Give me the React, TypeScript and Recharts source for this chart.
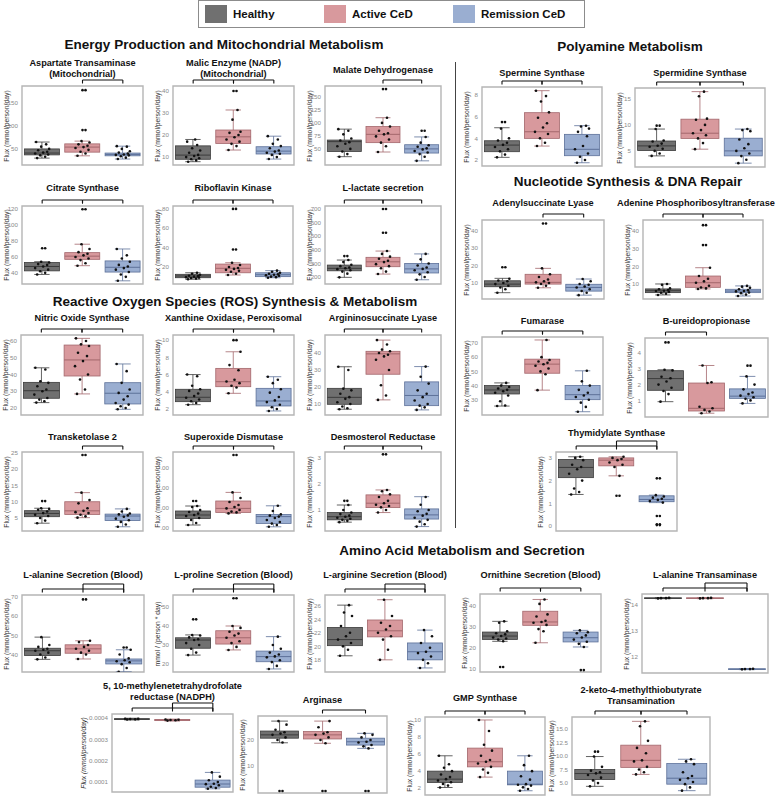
import React from "react";
import { ComposedChart, Bar, Scatter, XAxis, YAxis, ReferenceArea, ReferenceLine } from "recharts";

const GROUPS = ["Healthy", "Active CeD", "Remission CeD"];
const FILLS = ["#707070", "#d8999d", "#9aaed1"];
const EDGES = ["#3c3c3c", "#a3676c", "#5d7199"];
const JITTER = [-5, 3, -2, 6, -7, 1, 5, -4, 7, -1, 4, -6, 2, -3, 0];

// box stats per group: [low whisker, q1, median, q3, high whisker]
const aspBox = [[30, 37, 41, 50, 65], [35, 43, 54, 61, 67], [28, 35, 38, 41, 56]];
const aspPts = [[30, 33, 36, 38, 40, 42, 44, 47, 50, 55, 60, 65], [35, 40, 44, 48, 52, 54, 57, 60, 64, 67, 91, 178], [28, 31, 34, 36, 37, 38, 40, 42, 45, 50, 55, 56]];
const malicBox = [[7.9, 9.0, 10.9, 15.1, 18], [13.2, 16.2, 19.2, 22.3, 31.4], [9.1, 11.4, 12.7, 14.7, 19.5]];
const malicPts = [[7.9, 8.5, 9, 9.5, 10, 10.5, 11, 12, 13, 14, 15.5, 17, 18], [13.2, 15, 16, 17, 18, 19, 20, 21, 21.5, 27, 31.4, 40], [9.1, 10, 11, 11.5, 12, 12.5, 13, 14, 15, 16, 18, 19.5]];
const malateBox = [[35, 45, 64, 67, 88], [44, 62, 78, 93, 110], [27, 42, 50, 58, 73]];
const malatePts = [[35, 40, 45, 50, 55, 60, 63, 66, 70, 78, 85, 88], [44, 55, 62, 68, 74, 78, 80, 85, 93, 100, 110, 165], [27, 35, 40, 43, 46, 49, 51, 54, 57, 62, 73, 85]];
const citBox = [[38, 42.5, 48, 53, 54], [49, 57, 61, 65.4, 76], [30, 41, 47, 55, 70]];
const citPts = [[38, 40, 42, 44, 46, 48, 50, 51, 53, 54, 71], [49, 52, 56, 58, 60, 62, 64, 66, 70, 76, 120], [30, 35, 38, 41, 44, 46, 48, 50, 54, 58, 62, 70]];
const riboBox = [[7.3, 8.9, 10.7, 12.4, 14], [11.7, 14, 18.6, 23, 24.4], [8.9, 10, 12, 14, 16.2]];
const riboPts = [[7.3, 8, 8.5, 9, 9.5, 10, 10.5, 11, 12, 13, 14], [11.7, 13, 15, 16, 17, 18, 19, 20, 22, 24.4, 38, 80], [8.9, 9.5, 10, 11, 11.5, 12, 12.5, 13, 14, 15, 16.2]];
const lacBox = [[198, 246, 264, 288, 325], [222, 276, 312, 345, 391], [180, 230, 260, 300, 370]];
const lacPts = [[198, 225, 240, 250, 258, 265, 270, 280, 290, 310, 325, 354], [222, 240, 265, 280, 295, 310, 320, 335, 350, 370, 391, 526, 700], [180, 200, 220, 235, 250, 260, 270, 285, 300, 330, 370]];
const noBox = [[23.2, 25.8, 30.3, 35.3, 44], [28.4, 39.1, 48.7, 57.6, 61.6], [19.2, 22.4, 28.8, 35.1, 46.3]];
const noPts = [[23.2, 24, 25, 26, 28, 30, 31, 33, 35, 36, 43, 44], [28.4, 31, 37, 40, 45, 48, 51, 53, 57, 58, 60, 61.6], [19.2, 20, 21, 22, 23, 25, 27, 29, 31, 35, 42, 46.3]];
const xanBox = [[2.5, 2.85, 3.36, 4.29, 6.0], [3.82, 4.59, 5.17, 6.72, 8.65], [1.77, 2.35, 2.93, 4.4, 5.75]];
const xanPts = [[2.5, 2.7, 2.9, 3.1, 3.3, 3.5, 3.8, 4.1, 4.3, 4.7, 5.8, 6.0], [3.82, 4.5, 4.7, 5.0, 5.2, 5.4, 6.5, 7.1, 8.65, 10], [1.77, 2.0, 2.2, 2.5, 2.8, 3.0, 3.4, 3.9, 4.3, 5.0, 5.4, 5.75]];
const aslBox = [[6.9, 9.8, 13.9, 19.2, 31.9], [12.4, 27.5, 39.5, 41, 47.6], [6.5, 9, 15, 23, 32]];
const aslPts = [[6.9, 7.5, 8.5, 10, 11, 13, 14, 16, 18, 19, 30, 31.9], [12.4, 15, 21, 30, 36, 38, 39, 40, 41, 42, 45, 47.6], [6.5, 8, 9, 10, 12, 14, 16, 18, 22, 26, 32]];
const tkBox = [[3.4, 5.4, 6.4, 7.25, 8.0], [5.1, 6.1, 7.2, 10.0, 12.8], [2.3, 4.2, 5.6, 6.2, 7.8]];
const tkPts = [[3.4, 4.2, 5.0, 5.6, 6.0, 6.5, 7.0, 7.5, 7.8, 8.0, 10.2], [5.1, 5.5, 6.0, 6.5, 6.8, 7.2, 8.0, 9.5, 10.5, 12.8, 24.4], [2.3, 3.0, 3.8, 4.3, 4.8, 5.4, 5.8, 6.1, 6.4, 7.0, 7.8]];
const sodBox = [[115, 148, 165, 185, 210], [173, 178, 198, 235, 278], [106, 123, 157, 168, 211]];
const sodPts = [[115, 125, 140, 150, 160, 165, 172, 180, 190, 205, 210, 235], [173, 178, 182, 190, 198, 205, 215, 230, 250, 278, 465], [106, 115, 122, 130, 140, 150, 157, 162, 168, 185, 211]];
const desBox = [[0.53, 0.62, 0.74, 0.9, 1.19], [0.9, 1.09, 1.26, 1.58, 1.77], [0.36, 0.65, 0.81, 1.04, 1.51]];
const desPts = [[0.53, 0.58, 0.62, 0.66, 0.7, 0.74, 0.78, 0.84, 0.9, 1.0, 1.19, 1.35], [0.9, 1.0, 1.1, 1.15, 1.2, 1.26, 1.35, 1.5, 1.6, 1.72, 1.77, 3.14], [0.36, 0.45, 0.55, 0.62, 0.7, 0.78, 0.85, 0.95, 1.0, 1.2, 1.5]];
const smsBox = [[2.25, 2.77, 3.38, 3.78, 4.98], [3.29, 4.0, 4.61, 6.37, 8.4], [1.75, 2.4, 2.99, 4.37, 5.17]];
const smsPts = [[2.25, 2.5, 2.8, 3.0, 3.2, 3.4, 3.6, 3.8, 4.0, 4.9, 5.5], [3.29, 3.6, 4.0, 4.4, 4.6, 5.0, 5.4, 5.9, 6.4, 7.4, 7.9, 8.4], [1.75, 2.0, 2.3, 2.6, 3.0, 3.3, 4.2, 4.6, 4.9, 5.1, 5.17]];
const sdsBox = [[4.04, 5.06, 5.96, 6.9, 9.2], [5.33, 7.4, 8.4, 11.1, 16.4], [2.64, 4.04, 5.0, 7.44, 9.2]];
const sdsPts = [[4.04, 4.5, 5.0, 5.4, 5.8, 6.0, 6.4, 6.8, 7.0, 9.2, 9.86], [5.33, 6.5, 7.4, 8.0, 8.4, 9.0, 10.0, 11.0, 11.2, 15.5, 16.4], [2.64, 3.3, 4.0, 4.5, 5.0, 5.5, 6.3, 7.2, 8.8, 9.0, 9.2]];
const adslBox = [[4.5, 7.9, 9.4, 11.3, 12.7], [7.3, 9.4, 10.4, 15, 18.4], [3.1, 5.4, 7.5, 9.3, 12.3]];
const adslPts = [[4.5, 6.5, 7.5, 8.5, 9.4, 10, 11, 11.5, 12.5, 19], [7.3, 8.5, 9.5, 10, 10.4, 11, 12, 13.5, 15, 18.4, 44], [3.1, 4.5, 5.5, 6.5, 7.5, 8, 9, 9.5, 11, 12.3]];
const aprtBox = [[3.8, 5.1, 6.2, 7.2, 10], [7.2, 8.1, 10.7, 14.5, 19.2], [3.2, 5.1, 6.0, 7.0, 8.9]];
const aprtPts = [[3.8, 4.5, 5.0, 5.5, 6.0, 6.2, 6.5, 7.0, 7.5, 9.5, 10], [7.2, 7.5, 8.0, 9, 10.7, 11.5, 13, 14.5, 19.2, 32, 43.3], [3.2, 4.0, 4.8, 5.2, 5.8, 6.0, 6.5, 7.0, 7.8, 8.5, 8.9]];
const fumBox = [[25.6, 34.1, 36.9, 40, 41.9], [36.8, 48.7, 55.1, 58.6, 72.1], [21.6, 30.1, 33.6, 40, 50.4]];
const fumPts = [[25.6, 26, 29, 33, 35, 36, 37, 38, 39, 40, 41.9], [36.8, 48, 50, 52, 54, 55, 56, 57, 58, 60, 72.1], [21.6, 25, 28, 30, 32, 33, 35, 37, 40, 43, 50.4]];
const bupBox = [[0.92, 1.64, 2.38, 2.88, 2.94], [0.19, 0.33, 0.5, 2.1, 3.21], [0.81, 1.13, 1.27, 1.73, 2.52]];
const bupPts = [[0.92, 1.4, 1.6, 1.8, 2.0, 2.2, 2.4, 2.5, 2.9, 2.94, 4.67], [0.19, 0.3, 0.4, 0.5, 0.6, 2.1, 2.15, 3.21], [0.81, 1.0, 1.1, 1.2, 1.3, 1.4, 1.5, 1.7, 2.0, 2.52, 3.2]];
const tysBox = [[1.39, 2.13, 2.58, 2.93, 3.05], [2.21, 2.65, 2.9, 3.0, 3.05], [1.03, 1.07, 1.17, 1.33, 1.36]];
const tysPts = [[1.39, 1.5, 1.65, 2.0, 2.3, 2.5, 2.6, 2.7, 2.9, 3.0, 3.05], [1.33, 2.21, 2.6, 2.7, 2.8, 2.9, 2.95, 3.0, 3.05], [0.04, 0.08, 0.44, 1.03, 1.1, 1.15, 1.2, 1.25, 1.3, 1.36, 2.1]];
const alaBox = [[37.5, 39.5, 42, 43.3, 49.1], [37.7, 40.7, 43, 45.1, 47.2], [31, 35.1, 36.7, 37.7, 42.5]];
const alaPts = [[37.5, 38.5, 40, 41, 42, 42.5, 43, 44, 45, 49.1], [37.7, 40, 41, 42, 43, 44, 45, 46.5, 47.2, 68.8], [31, 33, 35, 36, 36.5, 37, 38, 40, 42.5, 43.7]];
const proBox = [[24.7, 28.3, 32.6, 33.8, 35.3], [27.4, 30.5, 33.8, 37.5, 40], [17.4, 21.2, 23.9, 26.8, 34.4]];
const proPts = [[24.7, 26, 28, 30, 31, 32.6, 33, 34, 35, 35.3, 43.5], [27.4, 29, 31, 32, 33.8, 35, 36, 37, 39, 40, 54.6], [17.4, 19, 21, 22, 23.5, 24, 25, 26, 28, 30, 34.4]];
const argBox = [[18.6, 20.1, 21, 22.8, 26.1], [18, 21.4, 22.3, 23.9, 26.9], [16.8, 18, 19.2, 20.5, 22.4]];
const argPts = [[18.6, 19.5, 20, 20.5, 21, 21.5, 22, 23, 24.5, 25, 26.1], [18, 19.5, 21, 21.5, 22, 22.5, 23, 23.5, 24.5, 26.9], [16.8, 17.5, 18, 18.5, 19, 19.2, 19.8, 20.5, 21.5, 22.4]];
const ornBox = [[23.2, 24.1, 25.7, 27.6, 32.7], [22.5, 30.8, 32.4, 37.5, 43.1], [20.5, 22.9, 24.9, 27.6, 28.4]];
const ornPts = [[11, 23.2, 24, 24.5, 25, 25.7, 26.5, 27, 28, 32, 32.7], [22.5, 28, 29, 31, 32, 32.4, 33, 35, 36, 41, 43.1], [9.5, 20.5, 22, 23, 24, 25, 26, 27, 27.5, 28.4]];
const altBox = [[14.24, 14.25, 14.26, 14.27, 14.28], [14.24, 14.25, 14.26, 14.27, 14.28], [11.51, 11.52, 11.53, 11.54, 11.55]];
const altPts = [[14.25, 14.26, 14.26, 14.27], [14.25, 14.26, 14.26, 14.27], [11.52, 11.53, 11.53, 11.54]];
const nadBox = [[0.000391, 0.000393, 0.000395, 0.000397, 0.000399], [0.000386, 0.000388, 0.000391, 0.000393, 0.000395], [0.000068, 0.0000756, 0.0000906, 0.000109, 0.000145]];
const nadPts = [[0.000393, 0.000394, 0.000395, 0.000396, 0.000397], [0.000388, 0.00039, 0.000391, 0.000392, 0.000393], [0.000068, 0.000072, 0.000078, 0.000085, 0.00009, 0.000092, 0.0001, 0.000108, 0.000125, 0.000145]];
const agsBox = [[18.9, 20.7, 22, 23.5, 27.4], [18.7, 20.4, 22, 23.3, 27.4], [16.7, 18, 19.3, 20.7, 22.6]];
const agsPts = [[0, 19, 20, 21, 22, 22.5, 23, 24, 26, 27.4], [0, 18.7, 20, 21, 22, 22.5, 23, 25, 27.4], [0, 16.7, 17.5, 18, 19, 19.3, 20, 21, 22, 22.6]];
const gmpBox = [[2.08, 2.67, 3.06, 4.0, 5.8], [3.3, 4.5, 5.1, 6.7, 10], [1.7, 2.39, 2.47, 4.0, 5.8]];
const gmpPts = [[2.08, 2.3, 2.5, 2.7, 2.9, 3.06, 3.3, 3.6, 4.0, 4.4, 4.8, 5.8], [3.3, 3.8, 4.2, 4.5, 4.9, 5.1, 5.3, 5.8, 6.4, 7.1, 8.7, 10], [1.7, 1.9, 2.1, 2.3, 2.4, 2.47, 3.0, 3.4, 4.0, 4.7, 5.8]];
const ketoBox = [[4.4, 5.65, 6.76, 7.5, 9.9], [6.6, 7.9, 9.2, 12.0, 16.4], [3.6, 4.8, 5.9, 8.6, 9.4]];
const ketoPts = [[4.4, 5.0, 5.5, 6.0, 6.5, 6.8, 7.0, 7.3, 8.0, 9.9, 10.8], [6.6, 7.0, 7.5, 8.0, 9.0, 9.2, 10.5, 11.5, 12.8, 15.5, 16.4], [3.6, 4.2, 4.8, 5.2, 5.6, 5.9, 6.3, 7.0, 8.5, 9.0, 9.4]];

type PanelDef = {
  title: string[];
  box: number[][];
  pts: number[][];
  domain: [number, number];
  ticks: number[];
  at: [number, number, number, number];
  titleY: number;
  titleX?: number;
  brackets: number[][];
  fmt?: (v: number) => string;
  yLabel?: string;
  labelDx?: number;
  italic?: boolean;
};

const BOTH = [[0, 1, 0], [1, 2, 0]];
const AR = [[1, 2, 0]];
const NEST = [[0, 2, 0], [1, 2, 1]];

const PANELS: PanelDef[] = [
  { title: ["Aspartate Transaminase", "(Mitochondrial)"], box: aspBox, pts: aspPts, domain: [15, 187], ticks: [50, 100, 150], at: [22, 86, 143, 165], titleY: 63, brackets: AR },
  { title: ["Malic Enzyme (NADP)", "(Mitochondrial)"], box: malicBox, pts: malicPts, domain: [6.4, 42.3], ticks: [10, 20, 30, 40], at: [173, 86, 294, 165], titleY: 63, brackets: BOTH },
  { title: ["Malate Dehydrogenase"], box: malateBox, pts: malatePts, domain: [19, 171], ticks: [50, 75, 100, 125, 150], at: [325, 86, 441, 165], titleY: 70, brackets: AR },
  { title: ["Citrate Synthase"], box: citBox, pts: citPts, domain: [26, 124], ticks: [40, 60, 80, 100, 120], at: [22, 206, 143, 284], titleY: 188, brackets: BOTH },
  { title: ["Riboflavin Kinase"], box: riboBox, pts: riboPts, domain: [2.4, 83], ticks: [20, 40, 60, 80], at: [173, 206, 293, 284], titleY: 188, brackets: BOTH },
  { title: ["L-lactate secretion"], box: lacBox, pts: lacPts, domain: [149, 722], ticks: [200, 300, 400, 500, 600, 700], at: [325, 206, 441, 284], titleY: 188, brackets: BOTH },
  { title: ["Nitric Oxide Synthase"], box: noBox, pts: noPts, domain: [15.8, 63.6], ticks: [20, 30, 40, 50, 60], at: [21, 335, 143, 415], titleY: 318, brackets: BOTH },
  { title: ["Xanthine Oxidase, Peroxisomal"], box: xanBox, pts: xanPts, domain: [1.3, 10.6], ticks: [2, 4, 6, 8, 10], at: [173, 335, 294, 415], titleY: 318, brackets: BOTH },
  { title: ["Argininosuccinate Lyase"], box: aslBox, pts: aslPts, domain: [3.5, 50.6], ticks: [10, 20, 30, 40], at: [325, 335, 441, 415], titleY: 318, brackets: BOTH },
  { title: ["Transketolase 2"], box: tkBox, pts: tkPts, domain: [1.0, 25.3], ticks: [5, 10, 15, 20, 25], at: [22, 452, 143, 531], titleY: 437, brackets: AR },
  { title: ["Superoxide Dismutase"], box: sodBox, pts: sodPts, domain: [85, 480], ticks: [100, 200, 300, 400], at: [173, 452, 294, 531], titleY: 437, brackets: BOTH, fmt: () => ".00" },
  { title: ["Desmosterol Reductase"], box: desBox, pts: desPts, domain: [0.19, 3.23], ticks: [1, 2, 3], at: [325, 452, 441, 531], titleY: 437, brackets: BOTH },
  { title: ["Spermine Synthase"], box: smsBox, pts: smsPts, domain: [1.45, 8.74], ticks: [2, 4, 6, 8], at: [482, 87, 602, 166], titleY: 73, brackets: BOTH },
  { title: ["Spermidine Synthase"], box: sdsBox, pts: sdsPts, domain: [1.9, 17.1], ticks: [5, 10, 15], at: [635, 88, 765, 167], titleY: 73, brackets: BOTH },
  { title: ["Adenylsuccinate Lyase"], box: adslBox, pts: adslPts, domain: [0.9, 46], ticks: [10, 20, 30, 40], at: [482, 220, 604, 299], titleY: 203, brackets: AR },
  { title: ["Adenine Phosphoribosyltransferase"], box: aprtBox, pts: aprtPts, domain: [1.5, 46.2], ticks: [10, 20, 30, 40], at: [643, 220, 763, 299], titleY: 203, titleX: 696, brackets: BOTH },
  { title: ["Fumarase"], box: fumBox, pts: fumPts, domain: [19.3, 74.2], ticks: [20, 30, 40, 50, 60, 70], at: [482, 337, 603, 415], titleY: 321, brackets: BOTH },
  { title: ["B-ureidopropionase"], box: bupBox, pts: bupPts, domain: [-0.05, 4.95], ticks: [0, 1, 2, 3, 4], at: [645, 338, 768, 417], titleY: 321, brackets: [[0, 1, 0]] },
  { title: ["Thymidylate Synthase"], box: tysBox, pts: tysPts, domain: [-0.22, 3.26], ticks: [0, 1, 2, 3], at: [556, 452, 677, 531], titleY: 433, brackets: NEST },
  { title: ["L-alanine Secretion (Blood)"], box: alaBox, pts: alaPts, domain: [30.9, 71.1], ticks: [30, 40, 50, 60, 70], at: [22, 595, 144, 672], titleY: 575, brackets: NEST },
  { title: ["L-proline Secretion (Blood)"], box: proBox, pts: proPts, domain: [15.8, 56.3], ticks: [20, 30, 40, 50], at: [173, 595, 294, 672], titleY: 575, brackets: NEST, yLabel: "mmol / (person * day)" },
  { title: ["L-arginine Secretion (Blood)"], box: argBox, pts: argPts, domain: [16.2, 27.6], ticks: [18, 20, 22, 24, 26], at: [325, 595, 445, 672], titleY: 575, brackets: NEST },
  { title: ["Ornithine Secretion (Blood)"], box: ornBox, pts: ornPts, domain: [8.6, 45.7], ticks: [10, 20, 30, 40], at: [480, 594, 601, 672], titleY: 575, brackets: BOTH },
  { title: ["L-alanine Transaminase"], box: altBox, pts: altPts, domain: [11.38, 14.42], ticks: [12, 13, 14], at: [642, 594, 768, 673], titleY: 575, brackets: NEST },
  { title: ["5, 10-methylenetetrahydrofolate", "reductase (NADPH)"], box: nadBox, pts: nadPts, domain: [0.0000531, 0.000419], ticks: [0.0001, 0.0002, 0.0003, 0.0004], at: [112, 714, 233, 792], titleY: 686, brackets: NEST, fmt: (v) => v.toFixed(4), labelDx: 29, italic: true },
  { title: ["Arginase"], box: agsBox, pts: agsPts, domain: [-0.8, 29.4], ticks: [0, 10, 20], at: [258, 716, 387, 793], titleY: 700, brackets: AR },
  { title: ["GMP Synthase"], box: gmpBox, pts: gmpPts, domain: [1.2, 10.35], ticks: [2, 4, 6, 8, 10], at: [425, 717, 545, 795], titleY: 698, brackets: BOTH },
  { title: ["2-keto-4-methylthiobutyrate", "Transamination"], box: ketoBox, pts: ketoPts, domain: [2.8, 17.2], ticks: [5, 7.5, 10, 12.5, 15], at: [572, 717, 710, 795], titleY: 690, brackets: BOTH, fmt: (v) => v.toFixed(1), labelDx: 21 },
];

const SECTIONS = [
  { text: "Energy Production and Mitochondrial Metabolism", x: 224, y: 45 },
  { text: "Reactive Oxygen Species (ROS) Synthesis & Metabolism", x: 235, y: 302 },
  { text: "Polyamine Metabolism", x: 630, y: 47 },
  { text: "Nucleotide Synthesis & DNA Repair", x: 628, y: 182 },
  { text: "Amino Acid Metabolism and Secretion", x: 462, y: 551 },
];

function BoxShape(props: any) {
  const { x, y, width, height, payload } = props;
  const [lo, q1, med, q3, hi] = payload.stats;
  const py = (v: number) => y + (height * (hi - v)) / (hi - lo);
  const i = payload.i;
  const cx = x + width / 2;
  const cap = width * 0.22;
  const edge = EDGES[i];
  const top = py(q3);
  const boxH = Math.max(py(q1) - top, 0.6);
  return (
    <g>
      <line x1={cx} x2={cx} y1={py(hi)} y2={top} stroke={edge} strokeWidth={0.8} />
      <line x1={cx} x2={cx} y1={py(q1)} y2={py(lo)} stroke={edge} strokeWidth={0.8} />
      <line x1={cx - cap} x2={cx + cap} y1={py(hi)} y2={py(hi)} stroke={edge} strokeWidth={0.8} />
      <line x1={cx - cap} x2={cx + cap} y1={py(lo)} y2={py(lo)} stroke={edge} strokeWidth={0.8} />
      <rect x={x} y={top} width={width} height={boxH} fill={FILLS[i]} stroke={edge} strokeWidth={0.8} />
      <line x1={x} x2={x + width} y1={py(med)} y2={py(med)} stroke={edge} strokeWidth={1} />
    </g>
  );
}

function DotShape(props: any) {
  const { cx, cy, payload } = props;
  if (cx == null || cy == null) return null;
  const j = payload.out ? 3 : JITTER[payload.k % JITTER.length];
  return (
    <g>
      {payload.out && <circle cx={cx} cy={cy} r={1.3} fill="#111" />}
      <circle cx={cx + j} cy={cy} r={1.3} fill="#111" />
    </g>
  );
}

function BoxPanel({ p }: { p: PanelDef }) {
  const [l, t, r, b] = p.at;
  const labelDx = p.labelDx ?? 16.5;
  const axisW = Math.max(24, labelDx + 6);
  const TOP = 18;
  const w = r - l + axisW + 1;
  const h = b - t + TOP + 1;
  const rows = GROUPS.map((g, i) => ({ g, i, stats: p.box[i], range: [p.box[i][0], p.box[i][4]] }));
  const dots = p.pts.flatMap((vals, i) =>
    vals.map((v, k) => ({ g: GROUPS[i], v, k, out: v > p.box[i][4] || v < p.box[i][0] }))
  );
  const perPx = (p.domain[1] - p.domain[0]) / (b - t);
  const brackets: React.ReactNode[] = [];
  p.brackets.forEach(([a, c, lvl], n) => {
    const yTop = p.domain[1] + (6 + lvl * 5) * perPx;
    const yEnd = yTop - (3.5 + lvl * 5) * perPx;
    const segs = [
      [{ x: GROUPS[a], y: yTop }, { x: GROUPS[c], y: yTop }],
      [{ x: GROUPS[a], y: yTop }, { x: GROUPS[a], y: yEnd }],
      [{ x: GROUPS[c], y: yTop }, { x: GROUPS[c], y: yEnd }],
    ];
    segs.forEach((s, m) =>
      brackets.push(
        <ReferenceLine key={`b${n}-${m}`} segment={s as any} stroke="#111" strokeWidth={1.1} ifOverflow="visible" />
      )
    );
  });

  return (
    <>
      <div
        style={{
          position: "absolute",
          left: p.titleX ?? (l + r) / 2,
          top: p.titleY - 5.5,
          transform: "translateX(-50%)",
          textAlign: "center",
          fontWeight: "bold",
          fontSize: 9.2,
          lineHeight: "11px",
          whiteSpace: "nowrap",
          color: "#111",
        }}
      >
        {p.title.map((s) => (
          <div key={s}>{s}</div>
        ))}
      </div>
      <div
        style={{
          position: "absolute",
          left: l - labelDx,
          top: (t + b) / 2,
          transform: "translate(-50%, -50%) rotate(-90deg)",
          whiteSpace: "nowrap",
          fontSize: 6.8,
          color: "#333",
          fontStyle: p.italic ? "italic" : "normal",
        }}
      >
        {p.yLabel ?? "Flux (mmol/person/day)"}
      </div>
      <div style={{ position: "absolute", left: l - axisW, top: t - TOP }}>
        <ComposedChart width={w} height={h} data={rows} margin={{ top: TOP, right: 1, bottom: 1, left: 0 }} barCategoryGap="6%">
          <XAxis dataKey="g" type="category" hide allowDuplicatedCategory={false} />
          <YAxis
            type="number"
            domain={p.domain}
            ticks={p.ticks}
            allowDataOverflow
            width={axisW}
            tick={{ fontSize: 6.2, fill: "#8a8a8a" }}
            tickLine={false}
            axisLine={false}
            tickSize={2}
            tickMargin={2}
            tickFormatter={p.fmt}
          />
          <ReferenceArea y1={p.domain[0]} y2={p.domain[1]} fill="none" stroke="#b5b5b5" strokeWidth={1.4} ifOverflow="visible" />
          <Bar dataKey="range" shape={BoxShape} isAnimationActive={false} />
          <Scatter data={dots} dataKey="v" shape={DotShape} isAnimationActive={false} />
          {brackets}
        </ComposedChart>
      </div>
    </>
  );
}

function Legend() {
  const items = [
    { label: "Healthy", x: 6 },
    { label: "Active CeD", x: 125 },
    { label: "Remission CeD", x: 254 },
  ];
  return (
    <div
      style={{
        position: "absolute",
        left: 198,
        top: 0,
        width: 387,
        height: 28,
        boxSizing: "border-box",
        border: "1.5px solid #8c8c8c",
      }}
    >
      {items.map((it, i) => (
        <React.Fragment key={it.label}>
          <div style={{ position: "absolute", left: it.x, top: 4, width: 22, height: 18, background: FILLS[i] }} />
          <div style={{ position: "absolute", left: it.x + 28, top: 5, fontSize: 11.5, fontWeight: "bold", lineHeight: "16px", color: "#111", whiteSpace: "nowrap" }}>
            {it.label}
          </div>
        </React.Fragment>
      ))}
    </div>
  );
}

export default function App() {
  return (
    <div
      style={{
        position: "absolute",
        left: 0,
        top: 0,
        width: 778,
        height: 797,
        background: "#fff",
        overflow: "hidden",
        fontFamily: "'Liberation Sans', Arial, sans-serif",
      }}
    >
      <Legend />
      {SECTIONS.map((s) => (
        <div
          key={s.text}
          style={{
            position: "absolute",
            left: s.x,
            top: s.y - 9,
            transform: "translateX(-50%)",
            fontSize: 13.5,
            fontWeight: "bold",
            lineHeight: "18px",
            whiteSpace: "nowrap",
            color: "#111",
          }}
        >
          {s.text}
        </div>
      ))}
      <div style={{ position: "absolute", left: 455, top: 62, width: 1.3, height: 466, background: "#444" }} />
      {PANELS.map((p) => (
        <BoxPanel key={p.title.join(" ")} p={p} />
      ))}
    </div>
  );
}
